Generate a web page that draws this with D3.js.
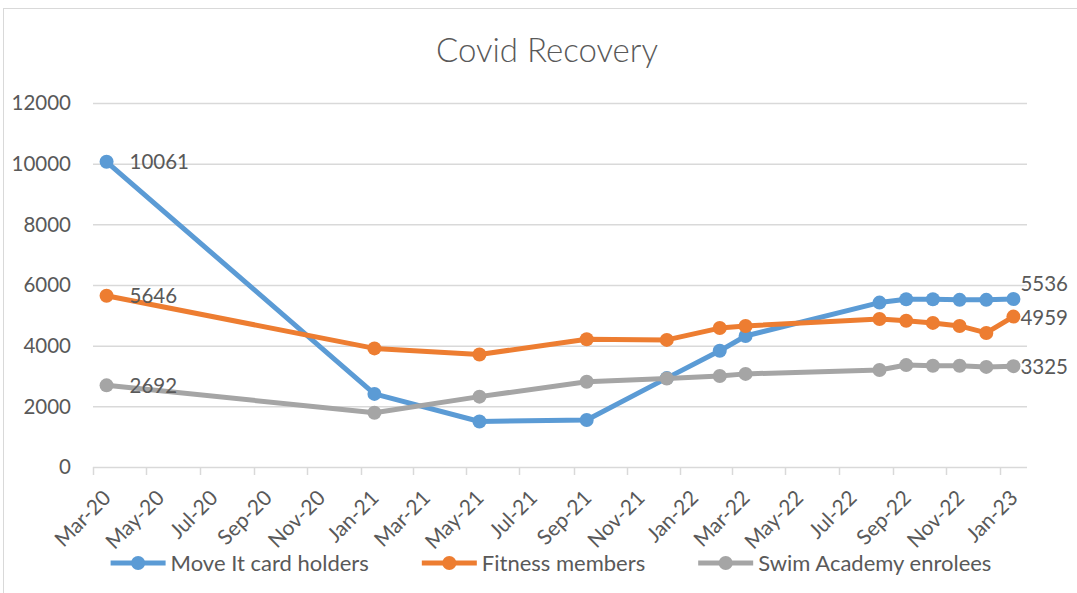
<!DOCTYPE html>
<html>
<head>
<meta charset="utf-8">
<script src="https://cdn.jsdelivr.net/npm/d3@7"></script>
<style>
  html, body { margin: 0; padding: 0; background: #fff; }
  svg { display: block; font-family: Lato, "Open Sans", sans-serif; }
</style>
</head>
<body>
<svg id="chart"></svg>
<script>
/* ---------- data ---------- */
const months  = ["2020-03", "2021-01", "2021-05", "2021-09", "2021-12", "2022-02", "2022-03",
                 "2022-08", "2022-09", "2022-10", "2022-11", "2022-12", "2023-01"];
const moveIt  = [10061, 2410, 1500, 1550, 2930, 3830, 4320, 5420, 5530, 5530, 5510, 5510, 5536];
const fitness = [5646, 3910, 3710, 4210, 4190, 4580, 4650, 4880, 4820, 4750, 4650, 4420, 4959];
const swim    = [2692, 1790, 2320, 2810, 2920, 3000, 3070, 3200, 3360, 3340, 3340, 3300, 3325];
const seriesNames  = ["Move It card holders", "Fitness members", "Swim Academy enrolees"];
const seriesColors = ["#5B9BD5", "#ED7D31", "#A5A5A5"];
const yTicks = [0, 2000, 4000, 6000, 8000, 10000, 12000];

/* ---------- setup ---------- */
const width = 1077, height = 593;
const textColor = "#595959", gridColor = "#D9D9D9";

const svg = d3.select("#chart").attr("width", width).attr("height", height);

// chart area border (right/bottom run off the picture)
svg.append("rect")
  .attr("x", 3.5).attr("y", 8.5).attr("width", 1100).attr("height", 600)
  .attr("fill", "#fff").attr("stroke", gridColor).attr("stroke-width", 1);

const parseMonth = d3.timeParse("%Y-%m");
const dates = months.map(parseMonth);

const x = d3.scaleTime()
  .domain([parseMonth("2020-03"), parseMonth("2023-02")])
  .range([93, 1027]);
const y = d3.scaleLinear().domain([0, 12000]).range([467, 103]);

// points sit in the middle of their month
const xMid = d => (x(d) + x(d3.timeMonth.offset(d, 1))) / 2;

/* ---------- title ---------- */
svg.append("text")
  .attr("x", 547).attr("y", 62)
  .attr("text-anchor", "middle")
  .attr("fill", textColor).attr("font-size", 33).attr("font-weight", 300)
  .text("Covid Recovery");

/* ---------- y grid + labels ---------- */
const gridG = svg.append("g");
gridG.selectAll("line").data(yTicks).enter().append("line")
  .attr("x1", 93).attr("x2", 1027)
  .attr("y1", d => y(d) + 0.5).attr("y2", d => y(d) + 0.5)
  .attr("stroke", gridColor).attr("stroke-width", 1.5);

gridG.selectAll("text").data(yTicks).enter().append("text")
  .attr("x", 71).attr("y", d => y(d))
  .attr("dy", "0.35em")
  .attr("text-anchor", "end")
  .attr("fill", textColor).attr("font-size", 20.5)
  .text(d => d);

/* ---------- x axis ---------- */
const xTicks = d3.timeMonth.every(2).range(parseMonth("2020-03"), parseMonth("2023-02"));
const fmt = d3.timeFormat("%b-%y");

const xAxis = svg.append("g");
xAxis.selectAll("line").data(xTicks).enter().append("line")
  .attr("x1", d => Math.round(x(d)) + 0.5).attr("x2", d => Math.round(x(d)) + 0.5)
  .attr("y1", 467).attr("y2", 475)
  .attr("stroke", gridColor).attr("stroke-width", 1.5);

xAxis.selectAll("text").data(xTicks).enter().append("text")
  .attr("transform", d => `translate(${x(d) + 14},${494}) rotate(-45)`)
  .attr("text-anchor", "end")
  .attr("dy", "0.35em")
  .attr("fill", textColor).attr("font-size", 21)
  .text(d => fmt(d));

/* ---------- series ---------- */
const allSeries = [moveIt, fitness, swim].map((vals, i) => ({
  name: seriesNames[i],
  color: seriesColors[i],
  pts: vals.map((v, j) => ({ date: dates[j], value: v }))
}));

const line = d3.line().x(d => xMid(d.date)).y(d => y(d.value));

const seriesG = svg.append("g").selectAll("g").data(allSeries).enter().append("g");
seriesG.append("path")
  .attr("d", d => line(d.pts))
  .attr("fill", "none")
  .attr("stroke", d => d.color)
  .attr("stroke-width", 5)
  .attr("stroke-linejoin", "round").attr("stroke-linecap", "round");
seriesG.each(function(s) {
  d3.select(this).selectAll("circle").data(s.pts).enter().append("circle")
    .attr("cx", d => xMid(d.date)).attr("cy", d => y(d.value))
    .attr("r", 7).attr("fill", s.color);
});

/* ---------- data labels (first + last point) ---------- */
const labelG = svg.append("g");
allSeries.forEach((s, i) => {
  const first = s.pts[0], last = s.pts[s.pts.length - 1];
  labelG.append("text")
    .attr("x", xMid(first.date) + 23).attr("y", y(first.value))
    .attr("dy", "0.35em")
    .attr("fill", textColor).attr("font-size", 20.5)
    .text(first.value);
  labelG.append("text")
    .attr("x", xMid(last.date) + 7).attr("y", y(last.value) + (i === 0 ? -15 : 1))
    .attr("dy", "0.35em")
    .attr("fill", textColor).attr("font-size", 20.5)
    .text(last.value);
});

/* ---------- legend ---------- */
const legend = svg.append("g");
const items = legend.selectAll("g").data(allSeries).enter().append("g");
items.append("line")
  .attr("x1", 0).attr("x2", 55).attr("y1", 0).attr("y2", 0)
  .attr("stroke", d => d.color).attr("stroke-width", 5);
items.append("circle").attr("cx", 27.5).attr("cy", 0).attr("r", 7).attr("fill", d => d.color);
items.append("text")
  .attr("x", 60).attr("y", 0).attr("dy", "0.35em")
  .attr("fill", textColor).attr("font-size", 22)
  .text(d => d.name);

const gap = 53;
let cx = 0;
items.each(function() {
  const g = d3.select(this);
  g.attr("transform", `translate(${cx},0)`);
  cx += 60 + g.select("text").node().getComputedTextLength() + gap;
});
const legendW = cx - gap;
legend.attr("transform", `translate(${551 - legendW / 2},563)`);
</script>
</body>
</html>
